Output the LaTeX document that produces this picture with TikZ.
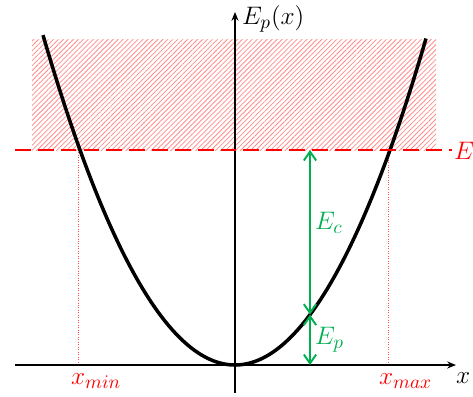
\documentclass[tikz,border=0pt]{standalone}
\usetikzlibrary{arrows.meta,patterns.meta}
\definecolor{eggreen}{RGB}{0,176,80}
\begin{document}
\begin{tikzpicture}[x=0.02cm,y=-0.02cm,
  lbl/.style={font=\fontsize{15}{17}\selectfont, inner sep=1pt},
  redlbl/.style={lbl, text=red},
  greenlbl/.style={lbl, text=eggreen},
  axisline/.style={line width=0.8pt, -{Stealth[length=5pt,width=4pt]}},
  curve/.style={line width=2pt},
  levelline/.style={red, line width=0.9pt, dash pattern=on 9pt off 4pt},
  guide/.style={red!70, line width=0.4pt, densely dotted},
  energy/.style={eggreen, line width=1.1pt, {Straight Barb[length=5pt,width=7pt]}-{Straight Barb[length=5pt,width=7pt]}}]
\useasboundingbox (0,0) rectangle (473,396);
% hatched forbidden region
\fill[pattern={Lines[angle=45,distance=2pt,line width=0.45pt]}, pattern color=red!45] (32,39) rectangle (436,150);
% coordinates
\coordinate (xl) at (15,365);
\coordinate (xr) at (456,365);
\coordinate (yb) at (235,393);
\coordinate (yt) at (235,12);
\coordinate (El) at (15,150);
\coordinate (Er) at (452,150);
\coordinate (pmin) at (78,150);
\coordinate (pmax) at (388,150);
\coordinate (amin) at (78,365);
\coordinate (amax) at (388,365);
\coordinate (gtop) at (310,150);
\coordinate (gmid) at (310,314.6);
\coordinate (gbot) at (310,365);
% guides
\draw[guide] (pmin) -- (amin);
\draw[guide] (pmax) -- (amax);
% axes
\draw[axisline] (xl) -- (xr);
\draw[axisline] (yb) -- (yt);
% parabola
\draw[curve] plot[domain=43:426,samples=120] (\x,{365-215*((\x-235)/155)^2});
% level line
\draw[levelline] (El) -- (Er);
% energy arrows
\draw[energy] (gtop) -- (gmid);
\draw[energy] (gmid) -- (gbot);
% labels
\node[lbl, anchor=west] (ylab) at (240,19) {$E_p(x)$};
\node[lbl, anchor=west] (xlab) at (454,378) {$x$};
\node[redlbl, anchor=west] (Elab) at (452,151) {$E$};
\node[redlbl, anchor=west] (xminlab) at (69,381) {$x_{min}$};
\node[redlbl, anchor=west] (xmaxlab) at (377,381) {$x_{max}$};
\node[greenlbl, anchor=west] (Eclab) at (313,223) {$E_c$};
\node[greenlbl, anchor=west] (Eplab) at (313,340) {$E_p$};
\end{tikzpicture}
\end{document}
